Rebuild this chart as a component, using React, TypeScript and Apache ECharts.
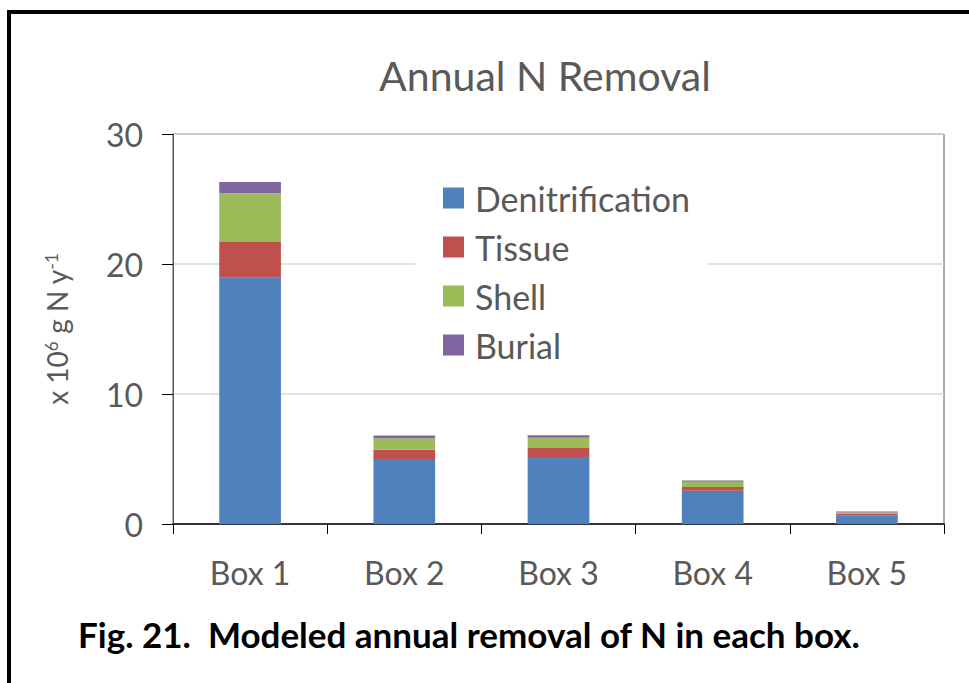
import React, { useEffect, useRef } from "react";
import * as echarts from "echarts";

const categories = ["Box 1", "Box 2", "Box 3", "Box 4", "Box 5"];
const denitrification = [18.95, 5.0, 5.15, 2.55, 0.67];
const tissue = [2.75, 0.72, 0.7, 0.3, 0.13];
const shell = [3.75, 0.88, 0.78, 0.4, 0.08];
const burial = [0.85, 0.2, 0.2, 0.1, 0.08];
const seriesNames = ["Denitrification", "Tissue", "Shell", "Burial"];
const yTicks = { min: 0, max: 30, interval: 10 };

const COLORS = ["#4F81BD", "#C0504D", "#9BBB59", "#8064A2"];
const FONT = "Lato, 'Open Sans', sans-serif";
const GRAY = "#595959";

export default function App() {
  const ref = useRef<HTMLDivElement>(null);
  useEffect(() => {
    if (!ref.current) return;
    const chart = echarts.init(ref.current, null, { renderer: "svg" });
    const values = [denitrification, tissue, shell, burial];
    chart.setOption({
      animation: false,
      backgroundColor: "#fff",
      textStyle: { fontFamily: FONT },
      title: {
        text: "Annual N Removal",
        left: 540,
        top: 50,
        textAlign: "center",
        textStyle: { fontFamily: FONT, fontSize: 41, fontWeight: "normal", color: GRAY },
      },
      grid: {
        left: 173,
        right: 25,
        top: 134,
        bottom: 159,
        show: true,
        borderColor: GRAY,
        borderWidth: 1,
        backgroundColor: "transparent",
      },
      legend: {
        orient: "vertical",
        left: 415,
        top: 171,
        padding: [10, 17, 10, 28],
        backgroundColor: "#fff",
        itemWidth: 21,
        itemHeight: 21,
        itemGap: 15,
        icon: "rect",
        data: seriesNames,
        textStyle: {
          fontFamily: FONT,
          fontSize: 34,
          lineHeight: 34,
          color: GRAY,
          padding: [0, 0, 0, 6],
        },
      },
      xAxis: {
        type: "category",
        data: categories,
        axisLine: { lineStyle: { color: "#000", width: 1.5 } },
        axisTick: { show: true, length: 10, lineStyle: { color: "#000" } },
        axisLabel: { fontFamily: FONT, fontSize: 32, color: GRAY, margin: 32 },
      },
      yAxis: {
        type: "value",
        min: yTicks.min,
        max: yTicks.max,
        interval: yTicks.interval,
        axisLine: { show: true, lineStyle: { color: GRAY } },
        axisTick: { show: true, length: 11, lineStyle: { color: "#000" } },
        axisLabel: { fontFamily: FONT, fontSize: 32, color: GRAY, margin: 30 },
        splitLine: { lineStyle: { color: "#D9D9D9", width: 1.5 } },
        name: "x 10{sup|6} g N y{sup|-1}",
        nameLocation: "middle",
        nameGap: 102,
        nameTextStyle: {
          fontFamily: FONT,
          fontSize: 28,
          color: GRAY,
          rich: {
            sup: { fontFamily: FONT, fontSize: 17, color: GRAY, verticalAlign: "top" },
          },
        },
      },
      graphic: [
        {
          type: "rect",
          shape: { x: 9, y: 12, width: 1200, height: 1200 },
          style: { fill: "none", stroke: "#000", lineWidth: 4 },
          silent: true,
        },
        {
          type: "text",
          left: 78,
          top: 616,
          style: {
            text: "Fig. 21.  Modeled annual removal of N in each box.",
            fontFamily: FONT,
            fontWeight: "bold",
            fontSize: 35,
            fill: "#000",
          },
        },
      ],
      series: seriesNames.map((name, i) => ({
        name,
        type: "bar",
        stack: "total",
        data: values[i],
        barCategoryGap: "60%",
        itemStyle: { color: COLORS[i] },
      })),
    });
    return () => chart.dispose();
  }, []);
  return (
    <div
      ref={ref}
      style={{ position: "fixed", left: 0, top: 0, width: 969, height: 683 }}
    />
  );
}
